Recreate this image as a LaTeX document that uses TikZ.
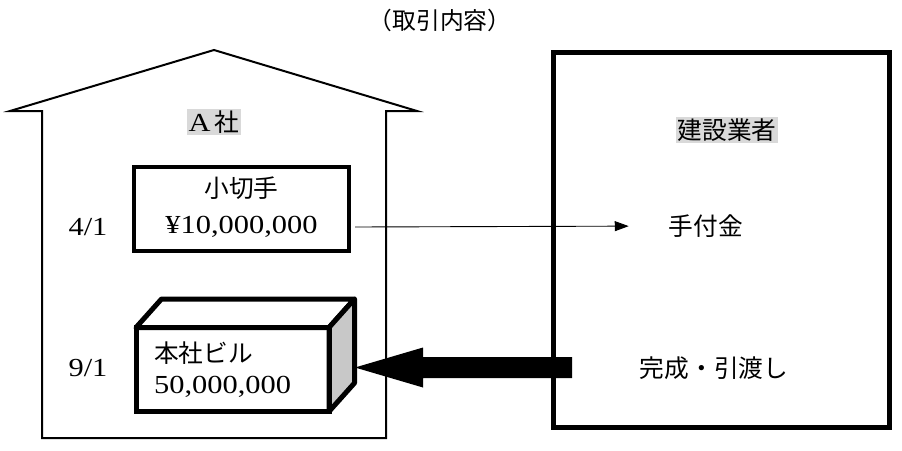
\documentclass[tikz,border=0pt]{standalone}
\usepackage{fontspec}
\setmainfont{Liberation Serif}[FakeStretch=1.17]
\newfontfamily\jp{Noto Sans CJK JP}[Scale=0.95]
\usetikzlibrary{arrows.meta}
\definecolor{taggray}{HTML}{D9D9D9}
\definecolor{sidegray}{HTML}{C8C8C8}
\begin{document}
\begin{tikzpicture}[x=1pt,y=-1pt,
  txt/.style={font=\fontsize{26}{30}\selectfont, inner sep=0pt},
  tag/.style={txt, fill=taggray, inner sep=1.5pt},
  frame/.style={draw, line width=5pt},
  cheque/.style={draw, line width=4pt, inner sep=0pt},
  face/.style={draw, line width=5pt, line join=round},
  thinarrow/.style={line width=0.9pt, -{Triangle[length=14pt,width=10pt]}}]
\useasboundingbox (0,0) rectangle (902,450);

% title
\node[txt, font=\fontsize{25}{29}\selectfont] (title) at (440,20) {\jp （取引内容）};

% company A: house outline
\draw[line width=2pt, line join=miter] (42,438) -- (42,111) -- (10,111) -- (214,50)
  -- (417,111) -- (386,111) -- (386,438) -- cycle;
\node[tag] (acorp) at (214,122) {A\,{\jp 社}};

% cheque
\node[cheque, minimum width=215pt, minimum height=83.5pt] (check) at (241.5,209) {};
\node[txt] (cname) at (241.5,188) {\jp 小切手};
\node[txt] (cvalue) at (241.5,227) {¥10,000,000};
\node[txt] (d1) at (88,227) {4/1};

% head office building (box drawn in perspective)
\draw[face, fill=white]
  (136,327.5) -- (161.5,299) -- (354.5,299) -- (329,327.5) -- cycle;
\draw[face, fill=sidegray]
  (329,327.5) -- (354.5,299) -- (354.5,383) -- (329,411.5) -- cycle;
\node[frame, minimum width=193pt, minimum height=84pt] (bldg) at (232.5,369.5) {};
\node[txt, anchor=west] (bname) at (154,353) {\jp 本社ビル};
\node[txt, anchor=west] (bvalue) at (154,387) {50,000,000};
\node[txt] (d2) at (88,368) {9/1};

% contractor
\node[frame, minimum width=335.5pt, minimum height=375pt] (contractor) at (721.25,240) {};
\node[tag] (cname2) at (727,130) {\jp 建設業者};
\node[txt] (advance) at (706,226) {\jp 手付金};
\node[txt] (handover) at (714,368) {\jp 完成・引渡し};

% flows
\coordinate (payfrom) at (355,227);
\draw[thinarrow, shorten >=40pt] (payfrom) -- (advance.west);
% block arrow: tip on the building's side face, tail inside the contractor frame
\coordinate (bldgside) at (355,367.5);
\fill (bldgside) -- ++(68,-20) -- ++(0,9.5) -- ++(149,0) -- ++(0,21)
  -- ++(-149,0) -- ++(0,9.5) -- cycle;
\end{tikzpicture}
\end{document}
